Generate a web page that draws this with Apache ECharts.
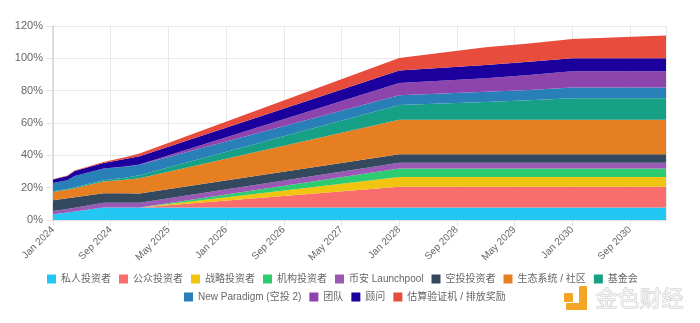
<!DOCTYPE html>
<html>
<head>
<meta charset="utf-8">
<script src="https://cdn.jsdelivr.net/npm/echarts@6/dist/echarts.min.js"></script>
<style>
html,body{margin:0;padding:0;background:#fff;}
#chart{width:700px;height:323px;}
</style>
</head>
<body>
<div id="chart"></div>
<script>
// x positions: months since Jan 2024 at which the values were read
const months = [0, 2, 3, 7, 10, 12, 48, 60, 66, 72, 85];
const tickLabels = ['Jan 2024','Sep 2024','May 2025','Jan 2026','Sep 2026','May 2027','Jan 2028','Sep 2028','May 2029','Jan 2030','Sep 2030'];

const privateInv    = [3.5, 4.6, 5.2, 7.8, 7.8, 7.8, 7.8, 7.8, 7.8, 7.8, 7.8];
const publicInv     = [0, 0, 0, 0, 0, 0, 12.8, 12.8, 12.8, 12.8, 12.8];
const strategicInv  = [0, 0, 0, 0, 0, 0, 6.0, 6.0, 6.0, 6.0, 6.0];
const institutional = [0, 0, 0, 0, 0, 0, 5.2, 5.2, 5.2, 5.2, 5.2];
const launchpool    = [2.1, 2.2, 2.4, 2.9, 2.9, 2.9, 3.6, 3.6, 3.6, 3.6, 3.6];
const airdrop       = [6.6, 6.6, 6.5, 5.9, 5.8, 5.7, 5.3, 5.3, 5.3, 5.3, 5.3];
const ecosystem     = [5.1, 5.3, 5.5, 7.2, 8.4, 9.5, 21.3, 21.3, 21.3, 21.3, 21.3];
const foundation    = [0.5, 0.5, 0.6, 0.8, 1.3, 1.8, 9.1, 11.0, 12.0, 13.3, 13.3];
const newParadigm   = [5.1, 5.4, 7.0, 7.2, 6.8, 6.4, 6.0, 6.3, 6.4, 6.6, 6.6];
const team          = [0, 0, 0, 0, 0.1, 0.2, 7.6, 8.4, 9.3, 10.1, 10.1];
const advisors      = [2.1, 2.6, 3.1, 3.5, 4.6, 5.2, 7.7, 8.2, 8.2, 8.0, 8.0];
const validators    = [0.2, 0.3, 0.3, 0.5, 1.1, 1.6, 7.8, 10.9, 11.2, 12.0, 14.2];

const seriesNames = ['私人投资者','公众投资者','战略投资者','机构投资者','币安 Launchpool','空投投资者','生态系统 / 社区','基金会','New Paradigm (空投 2)','团队','顾问','估算验证机 / 排放奖励'];
const seriesValues = [privateInv, publicInv, strategicInv, institutional, launchpool, airdrop, ecosystem, foundation, newParadigm, team, advisors, validators];
const colors = ['#22c8f3','#f96d6d','#f1c40f','#2ecc71','#9b59b6','#34495e','#e67e22','#16a085','#2980b9','#8e44ad','#1c009e','#e74c3c'];

const FONT = "'Liberation Sans', 'Noto Sans CJK SC', sans-serif";

const chart = echarts.init(document.getElementById('chart'), null, {renderer: 'canvas'});

// value first, month second: the value dimension is the one ECharts stacks
const series = seriesNames.map((name, i) => ({
  name: name,
  type: 'line',
  stack: 'total',
  showSymbol: false,
  symbol: 'none',
  encode: {x: 1, y: 0},
  lineStyle: {width: 0},
  areaStyle: {color: colors[i], opacity: 1},
  itemStyle: {color: colors[i]},
  emphasis: {disabled: true},
  data: months.map((m, k) => [seriesValues[i][k], m])
}));

const legendCommon = {
  icon: 'rect',
  itemWidth: 9,
  itemHeight: 9,
  itemGap: 8,
  padding: 0,
  orient: 'horizontal',
  textStyle: {color: '#666', fontSize: 10, fontFamily: FONT},
  selectedMode: false
};

chart.setOption({
  animation: false,
  color: colors,
  textStyle: {fontFamily: FONT},
  grid: {left: 53, right: 34, top: 26, bottom: 103},
  legend: [
    Object.assign({}, legendCommon, {data: seriesNames.slice(0, 8), left: 47, top: 274}),
    Object.assign({}, legendCommon, {data: seriesNames.slice(8), left: 184, top: 292})
  ],
  xAxis: {
    type: 'value',
    min: 0,
    max: 85,
    interval: 8,
    axisLine: {show: true, lineStyle: {color: '#e3e3e3'}},
    axisTick: {show: true, length: 6, lineStyle: {color: '#e3e3e3'}},
    splitLine: {show: true, lineStyle: {color: '#e8e8e8'}},
    axisLabel: {
      rotate: 45,
      margin: 8,
      color: '#666',
      fontSize: 10,
      fontFamily: FONT,
      showMaxLabel: false,
      formatter: function (v) {
        if (v % 8 !== 0) return '';
        return tickLabels[v / 8] || '';
      }
    }
  },
  yAxis: {
    type: 'value',
    min: 0,
    max: 120,
    interval: 20,
    axisLine: {show: true, lineStyle: {color: '#d4d4d4', width: 1.5}},
    axisTick: {show: true, length: 6, lineStyle: {color: '#e3e3e3'}},
    splitLine: {show: true, lineStyle: {color: '#e8e8e8'}},
    axisLabel: {color: '#666', fontSize: 11, margin: 10, fontFamily: FONT, formatter: '{value}%'}
  },
  graphic: [
    {type: 'rect', shape: {x: 564, y: 293, width: 9, height: 9, r: 1}, style: {fill: '#f2a623'}},
    {type: 'rect', shape: {x: 579, y: 286, width: 8, height: 24, r: 1}, style: {fill: '#f2a623'}},
    {type: 'rect', shape: {x: 566, y: 303, width: 21, height: 7, r: 1}, style: {fill: '#f2a623'}},
    {type: 'text', left: 595, top: 286, style: {text: '金色财经', fontSize: 22, fontFamily: "'Noto Sans CJK SC', sans-serif", fill: '#f3f3f3', stroke: '#c9c9c9', lineWidth: 1}}
  ],
  series: series
});
</script>
</body>
</html>
